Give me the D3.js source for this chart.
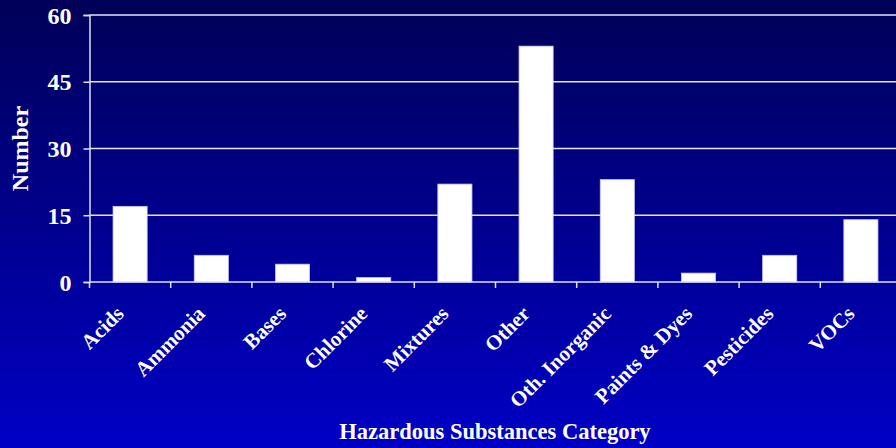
<!DOCTYPE html>
<html>
<head>
<meta charset="utf-8">
<script src="https://cdn.jsdelivr.net/npm/d3@7"></script>
<style>
  html, body { margin: 0; padding: 0; background: #0000c0; }
  svg { display: block; }
  text { font-family: "Liberation Serif", "Times New Roman", serif; font-weight: bold; fill: #ffffff; }
</style>
</head>
<body>
<svg id="chart" width="896" height="448"></svg>
<script>
// Incidents per hazardous substance category
const categories = ["Acids", "Ammonia", "Bases", "Chlorine", "Mixtures", "Other",
  "Oth. Inorganic", "Paints & Dyes", "Pesticides", "VOCs"];
const counts = [17, 6, 4, 1, 22, 53, 23, 2, 6, 14];
const yTicks = [0, 15, 30, 45, 60];

const W = 896, H = 448;
const margin = { left: 89.5, top: 15, bottom: 166 };
const plotRight = 901.5;

const svg = d3.select("#chart");

// Background: navy at the top fading to bright blue
const defs = svg.append("defs");
const grad = defs.append("linearGradient")
  .attr("id", "bg").attr("x1", 0).attr("y1", 0).attr("x2", 0).attr("y2", 1);
grad.append("stop").attr("offset", "0%").attr("stop-color", "#000058");
grad.append("stop").attr("offset", "100%").attr("stop-color", "#0000c6");
svg.append("rect").attr("width", W).attr("height", H).attr("fill", "url(#bg)");

const x = d3.scaleBand().domain(categories).range([margin.left, plotRight]).paddingInner(0.58).paddingOuter(0.29);
const y = d3.scaleLinear().domain([0, 60]).range([H - margin.bottom, margin.top]);

// Horizontal gridlines
svg.append("g").selectAll("line").data(yTicks.filter(d => d > 0)).join("line")
  .attr("x1", margin.left).attr("x2", plotRight)
  .attr("y1", d => y(d)).attr("y2", d => y(d))
  .attr("stroke", "#e4e4f4").attr("stroke-width", 1.5);

// Bars
svg.append("g").selectAll("rect").data(counts).join("rect")
  .attr("x", (d, i) => x(categories[i]))
  .attr("y", d => y(d))
  .attr("width", x.bandwidth())
  .attr("height", d => y(0) - y(d))
  .attr("fill", "#ffffff")
  .attr("stroke", "#c8c8f0").attr("stroke-width", 0.8);

// Y axis
const yAxis = svg.append("g")
  .attr("transform", `translate(${margin.left},0)`)
  .call(d3.axisLeft(y).tickValues(yTicks).tickSize(6).tickPadding(12));
yAxis.select(".domain").attr("stroke", "#e0e0f0").attr("stroke-width", 1.5);
yAxis.selectAll(".tick line").attr("stroke", "#e0e0f0").attr("stroke-width", 1.5);
yAxis.selectAll(".tick text")
  .style("font-size", "24px").style("font-family", "'Liberation Serif', serif")
  .style("font-weight", "bold").attr("fill", "#ffffff").attr("dy", "0.34em");

// X axis: baseline with ticks on category boundaries
const baseY = y(0);
svg.append("line")
  .attr("x1", margin.left).attr("x2", plotRight)
  .attr("y1", baseY).attr("y2", baseY)
  .attr("stroke", "#e0e0f0").attr("stroke-width", 1.5);
const step = x.step();
const bounds = d3.range(categories.length + 1).map(i => margin.left + i * step);
svg.append("g").selectAll("line").data(bounds).join("line")
  .attr("x1", d => d).attr("x2", d => d)
  .attr("y1", baseY).attr("y2", baseY + 6)
  .attr("stroke", "#e0e0f0").attr("stroke-width", 1.5);

// Category labels, rotated
svg.append("g").selectAll("text").data(categories).join("text")
  .attr("transform", d => `translate(${x(d) + x.bandwidth() / 2 - 5},${baseY + 33}) rotate(-45)`)
  .attr("text-anchor", "end")
  .style("font-size", "21px")
  .text(d => d);

// Axis titles
svg.append("text")
  .attr("transform", `translate(28,${(margin.top + baseY) / 2}) rotate(-90)`)
  .attr("text-anchor", "middle")
  .style("font-size", "24px")
  .text("Number");

svg.append("text")
  .attr("x", 495).attr("y", 439)
  .attr("text-anchor", "middle")
  .style("font-size", "22.5px")
  .text("Hazardous Substances Category");
</script>
</body>
</html>
